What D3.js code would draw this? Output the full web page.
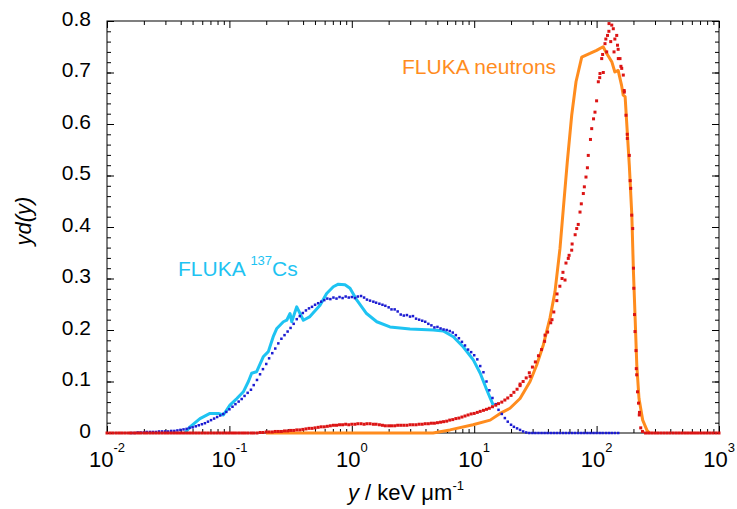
<!DOCTYPE html>
<html>
<head>
<meta charset="utf-8">
<script src="https://cdn.jsdelivr.net/npm/d3@7"></script>
<style>
  body { margin: 0; background: #fff; }
  text { font-family: "Liberation Sans", Arial, sans-serif; }
</style>
</head>
<body>
<div class="chart"></div>
<script>
// x axis (lineal energy, keV/um) - decades and their exponent labels
var xMajor = [0.01, 0.1, 1, 10, 100, 1000];
var xTickExp = ["-2", "-1", "0", "1", "2", "3"];
var yMajor = [0, 0.1, 0.2, 0.3, 0.4, 0.5, 0.6, 0.7, 0.8];

// measured spectra share one set of bins
var yBins = [
  0.01,0.0106,0.0112,0.0119,0.0126,0.0133,0.0141,0.015,0.0158,0.0168,0.0178,0.0188,0.02,0.0211,0.0224,0.0237,0.0251,0.0266,0.0282,0.0299,0.0316,0.0335,0.0355,0.0376,0.0398,0.0422,0.0447,0.0473,0.0501,0.0531,0.0562,0.0596,0.0631,0.0668,0.0708,0.075,0.0794,0.0841,0.0891,0.0944,
  0.1,0.106,0.112,0.119,0.126,0.133,0.141,0.15,0.158,0.168,0.178,0.188,0.2,0.211,0.224,0.237,0.251,0.266,0.282,0.299,0.316,0.335,0.355,0.376,0.398,0.422,0.447,0.473,0.501,0.531,0.562,0.596,0.631,0.668,0.708,0.75,0.794,0.841,0.891,0.944,
  1,1.06,1.12,1.19,1.26,1.33,1.41,1.5,1.58,1.68,1.78,1.88,2,2.11,2.24,2.37,2.51,2.66,2.82,2.99,3.16,3.35,3.55,3.76,3.98,4.22,4.47,4.73,5.01,5.31,5.62,5.96,6.31,6.68,7.08,7.5,7.94,8.41,8.91,9.44,
  10,10.6,11.2,11.9,12.6,13.3,14.1,15,15.8,16.8,17.8,18.8,20,21.1,22.4,23.7,25.1,26.6,28.2,29.9,31.6,33.5,35.5,37.6,39.8,42.2,44.7,47.3,50.1,53.1,56.2,59.6,63.1,66.8,70.8,75,79.4,84.1,89.1,94.4,
  100,106,112,119,126,133,141,150,158,168,178,188,200,211,224,237,251,266,282,299,316,335,355,376,398,422,447,473,501,531,562,596,631,668,708,750,794,841,891,944,
  1000
];

// measured 137Cs (blue dots), null = no point
var csMeas = [
  null,null,null,null,null,null,null,null,0,0,0.001,0.001,0.001,0.002,0.002,0.002,0.002,0.003,0.003,0.003,0.003,0.004,0.004,0.005,0.006,0.007,0.008,0.010,0.011,0.013,0.015,0.017,0.019,0.022,0.025,0.028,0.031,0.034,0.037,0.041,
  0.046,0.051,0.056,0.061,0.066,0.072,0.078,0.084,0.093,0.103,0.114,0.124,0.134,0.145,0.155,0.164,0.174,0.183,0.190,0.197,0.204,0.212,0.221,0.227,0.233,0.238,0.242,0.245,0.249,0.252,0.255,0.258,0.261,0.260,0.263,0.261,0.264,0.262,0.265,0.263,
  0.264,0.262,0.265,0.266,0.263,0.259,0.257,0.255,0.253,0.251,0.249,0.247,0.244,0.240,0.240,0.236,0.230,0.228,0.229,0.226,0.227,0.222,0.220,0.218,0.216,0.212,0.209,0.205,0.206,0.203,0.201,0.200,0.198,0.195,0.190,0.184,0.177,0.170,0.162,0.157,
  0.151,0.143,0.130,0.118,0.100,0.083,0.068,0.056,0.045,0.037,0.029,0.022,0.016,0.012,0.009,0.006,0.003,0.001,0,0,0,0,0,0,0,0,0,0,0,0,0,0,0,0,0,0,0,0,0,0,
  0,0,0,0,0,0,0,0,null,null,null,null,null,null,null,null,null,null,null,null,null,null,null,null,null,null,null,null,null,null,null,null,null,null,null,null,null,null,null,null,
  null
];

// measured neutrons (red dots)
var nMeas = [
  0,0,0,0,0,0,0,0,0,0,0,0,0,0,0,0,0,0,0,0,0,0,0,0,0,0,0,0,0,0,0,0,0,0,0,0,0,0,0,0,
  0,0,0,0,0,0,0,0,0,0,0.001,0.001,0.002,0.002,0.002,0.003,0.003,0.003,0.004,0.004,0.005,0.005,0.006,0.006,0.007,0.008,0.009,0.009,0.010,0.011,0.012,0.012,0.013,0.014,0.015,0.015,0.016,0.016,0.017,0.016,
  0.017,0.017,0.018,0.018,0.017,0.018,0.018,0.017,0.017,0.016,0.015,0.014,0.014,0.014,0.014,0.015,0.015,0.015,0.015,0.016,0.016,0.016,0.017,0.017,0.018,0.018,0.019,0.019,0.020,0.021,0.022,0.023,0.025,0.026,0.028,0.029,0.031,0.033,0.035,0.037,
  0.038,0.040,0.042,0.044,0.046,0.048,0.051,0.054,0.057,0.060,0.064,0.068,0.073,0.079,0.085,0.092,0.100,0.107,0.117,0.128,0.138,0.150,0.162,0.178,0.196,0.214,0.235,0.257,0.285,0.312,0.330,0.345,0.367,0.385,0.405,0.445,0.478,0.515,0.570,0.610,
  0.645,0.690,0.735,0.765,0.780,0.792,0.765,0.745,0.712,0.665,0.580,0.490,0.320,0.125,0.040,0.003,0,0,0,0,0,0,0,0,0,0,0,0,0,0,0,0,0,0,0,0,0,0,0,0,
  0
];
// extra neutron points around the peak (finer channels)
var nMeasExtra = [[23.7,0.095],[28.6,0.110],[37.9,0.190],[43.2,0.220],[47.5,0.270],[52.2,0.300],[55.2,0.297],[58.7,0.339],[62.6,0.355],[68.8,0.397],[73.2,0.429],[77.9,0.465],[81.9,0.497],[85.5,0.539],[91.2,0.591],[97.0,0.623],[103.3,0.682],[106.6,0.698],[110.1,0.727],[113.4,0.700],[117.1,0.756],[120.9,0.740],[122.8,0.772],[126.3,0.795],[130.4,0.760],[136.9,0.785],[138.8,0.740],[146.0,0.772],[148.2,0.753],[150.4,0.727],[155.3,0.727],[160.4,0.708],[165.2,0.695],[168.4,0.662],[173.9,0.617],[178.2,0.572],[185.0,0.539],[190.0,0.475],[193.6,0.423],[197.2,0.397],[201.4,0.281],[204.0,0.230],[206.0,0.197],[209.9,0.160],[212.6,0.113],[215.9,0.080],[220.0,0.058],[223.3,0.035],[229.3,0.010]];

// FLUKA simulations (lines)
var csFluka = [[0.0434,0],[0.0477,0.012],[0.0575,0.028],[0.0694,0.038],[0.0812,0.038],[0.0892,0.035],[0.101,0.054],[0.115,0.067],[0.130,0.080],[0.143,0.100],[0.152,0.116],[0.167,0.119],[0.189,0.148],[0.208,0.158],[0.228,0.187],[0.244,0.203],[0.276,0.216],[0.294,0.219],[0.313,0.232],[0.323,0.216],[0.355,0.245],[0.402,0.219],[0.455,0.226],[0.550,0.248],[0.623,0.271],[0.706,0.284],[0.776,0.289],[0.880,0.288],[0.967,0.281],[1.10,0.258],[1.32,0.232],[1.60,0.216],[2.05,0.206],[2.99,0.202],[4.63,0.200],[5.59,0.198],[6.75,0.187],[8.15,0.167],[9.83,0.142],[11.2,0.116],[12.7,0.083],[14.3,0.054]];
var nFluka = [[0.199,0],[4.61,0],[6.34,0.006],[9.78,0.016],[13.5,0.025],[16.3,0.038],[19.6,0.048],[23.7,0.067],[28.6,0.100],[32.4,0.132],[36.7,0.171],[41.6,0.223],[45.7,0.274],[50.2,0.358],[53.5,0.436],[57.6,0.526],[62.6,0.617],[67.9,0.682],[75.6,0.730],[88.3,0.737],[100,0.743],[113,0.750],[121,0.737],[133,0.721],[141,0.701],[150,0.704],[160,0.675],[165,0.656],[171,0.653],[176,0.604],[185,0.520],[194,0.423],[200,0.313],[206,0.229],[213,0.132],[222,0.067],[238,0.025],[257,0.006],[270,0]];

var svgWidth = 737;
var svgHeight = 509;
var margin = {top: 21, right: 18, bottom: 76, left: 107};
var width = svgWidth - margin.left - margin.right;
var height = svgHeight - margin.top - margin.bottom;

var svg = d3.select(".chart")
  .append("svg")
  .attr("width", svgWidth)
  .attr("height", svgHeight);

var chartGroup = svg.append("g")
  .attr("transform", `translate(${margin.left}, ${margin.top})`);

var xScale = d3.scaleLog().domain([0.01, 1000]).range([0, width]);
var yScale = d3.scaleLinear().domain([0, 0.8]).range([height, 0]);

// minor ticks
var xMinor = [];
xMajor.slice(0, -1).forEach(function(d) {
  for (var k = 2; k < 10; k++) xMinor.push(d * k);
});
var yMinor = d3.range(0, 0.801, 0.02);

var font = '"Liberation Sans", Arial, sans-serif';

function noDomain(g) { g.select(".domain").remove(); }

chartGroup.append("g").attr("transform", `translate(0, ${height})`)
  .call(d3.axisBottom(xScale).tickValues(xMajor).tickSize(-7).tickFormat("")).call(noDomain);
chartGroup.append("g").attr("transform", `translate(0, ${height})`)
  .call(d3.axisBottom(xScale).tickValues(xMinor).tickSize(-4).tickFormat("")).call(noDomain);
chartGroup.append("g")
  .call(d3.axisTop(xScale).tickValues(xMajor).tickSize(-7).tickFormat("")).call(noDomain);
chartGroup.append("g")
  .call(d3.axisTop(xScale).tickValues(xMinor).tickSize(-4).tickFormat("")).call(noDomain);

chartGroup.append("g")
  .call(d3.axisLeft(yScale).tickValues(yMinor).tickSize(-4).tickFormat("")).call(noDomain);
chartGroup.append("g").attr("transform", `translate(${width}, 0)`)
  .call(d3.axisRight(yScale).tickValues(yMinor).tickSize(-4).tickFormat("")).call(noDomain);
chartGroup.append("g").attr("transform", `translate(${width}, 0)`)
  .call(d3.axisRight(yScale).tickValues(yMajor).tickSize(-7).tickFormat("")).call(noDomain);

var leftAxis = chartGroup.append("g")
  .call(d3.axisLeft(yScale).tickValues(yMajor).tickSize(-7).tickPadding(16)
    .tickFormat(d => d === 0 ? "0" : d.toFixed(1)))
  .call(noDomain);
leftAxis.selectAll("text")
  .attr("font-size", 21).attr("font-family", font).attr("fill", "#000").attr("dy", "0.2em");

// frame
chartGroup.append("rect")
  .attr("width", width).attr("height", height)
  .attr("fill", "none").attr("stroke", "#000").attr("stroke-width", 1);

// x tick labels 10^n
var xLab = chartGroup.append("g").selectAll("text")
  .data(xMajor)
  .enter()
  .append("text")
  .attr("x", d => xScale(d))
  .attr("y", height + 34)
  .attr("text-anchor", "middle")
  .attr("font-size", 22);
xLab.append("tspan").text("10");
xLab.append("tspan").attr("dy", -15).attr("font-size", 13).text((d, i) => xTickExp[i]);

// simulated lines
var line = d3.line().x(d => xScale(d[0])).y(d => yScale(d[1]));

chartGroup.append("path").datum(nFluka)
  .attr("d", line).attr("fill", "none")
  .attr("stroke", "#ff8c1e").attr("stroke-width", 3).attr("stroke-linejoin", "round");

chartGroup.append("path").datum(csFluka)
  .attr("d", line).attr("fill", "none")
  .attr("stroke", "#1ec3f2").attr("stroke-width", 3).attr("stroke-linejoin", "round");

// measured dots
var csPts = yBins.map((y, i) => [y, csMeas[i]]).filter(d => d[1] !== null);
var nPts = yBins.map((y, i) => [y, nMeas[i]]).concat(nMeasExtra);

chartGroup.selectAll(".csdot")
  .data(csPts)
  .enter()
  .append("rect")
  .attr("class", "csdot")
  .attr("x", d => xScale(d[0]) - 1.25)
  .attr("y", d => yScale(d[1]) - 1.25)
  .attr("width", 2.5).attr("height", 2.5)
  .attr("fill", "#1c1cd2");

chartGroup.selectAll(".ndot")
  .data(nPts)
  .enter()
  .append("rect")
  .attr("class", "ndot")
  .attr("x", d => xScale(d[0]) - 1.5)
  .attr("y", d => yScale(d[1]) - 1.5)
  .attr("width", 3).attr("height", 3)
  .attr("fill", "#dc1414");

// labels inside the plot
chartGroup.append("text")
  .attr("x", 295).attr("y", 53)
  .attr("font-size", 21).attr("fill", "#ff8c1e")
  .text("FLUKA neutrons");

var csLabel = chartGroup.append("text")
  .attr("x", 71).attr("y", 255)
  .attr("font-size", 21).attr("fill", "#1ec3f2");
csLabel.append("tspan").text("FLUKA ");
csLabel.append("tspan").attr("dy", -11).attr("font-size", 13).text("137");
csLabel.append("tspan").attr("dy", 11).text("Cs");

// axis titles
var xTitle = chartGroup.append("text")
  .attr("x", 241).attr("y", 479)
  .attr("font-size", 22);
xTitle.append("tspan").attr("font-style", "italic").text("y");
xTitle.append("tspan").text(" / keV \u03bcm");
xTitle.append("tspan").attr("dy", -10).attr("font-size", 13).text("-1");

chartGroup.append("text")
  .attr("transform", "translate(-76, 200) rotate(-90)")
  .attr("text-anchor", "middle")
  .attr("font-size", 22)
  .attr("font-style", "italic")
  .text("yd(y)");
</script>
</body>
</html>
